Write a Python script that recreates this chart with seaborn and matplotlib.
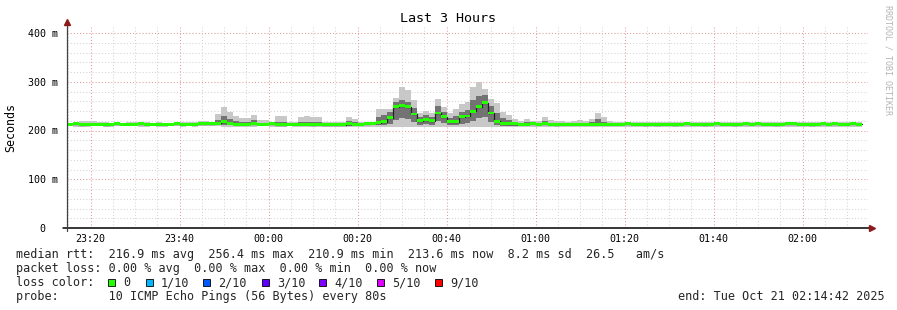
import numpy as np
import pandas as pd
import matplotlib
matplotlib.use("Agg")
import matplotlib.pyplot as plt
import seaborn as sns
from matplotlib.patches import Rectangle

# ---------------- data (80 s steps, minutes relative to 00:00) ----------------
start_min = -(45 + 18 / 60)      # 23:14:42
end_min = 134 + 42 / 60          # 02:14:42
step_min = 80 / 60

median_ms = [213, 214, 212, 213, 213, 213, 212, 213, 214, 213,
             213, 213, 214, 213, 213, 213, 213, 213, 214, 213,
             213, 213, 214, 214, 214, 215, 218, 215, 213, 213,
             213, 214, 213, 213, 214, 212, 212, 213, 213, 213,
             213, 212, 213, 212, 212, 212, 212, 214, 213, 213,
             214, 215, 216, 218, 226, 249, 251, 249, 234, 220,
             222, 220, 236, 228, 218, 218, 228, 230, 239, 249,
             257, 236, 219, 215, 214, 214, 213, 213, 214, 213,
             214, 213, 212, 213, 213, 213, 213, 213, 213, 213,
             213, 213, 213, 213, 214, 213, 213, 212, 213, 212,
             213, 213, 212, 213, 214, 213, 213, 212, 213, 214,
             213, 213, 212, 213, 214, 213, 214, 213, 213, 212,
             213, 214, 214, 213, 213, 212, 213, 214, 213, 214,
             213, 213, 214, 213]

max_ms = [216, 217, 220, 220, 220, 217, 217, 216, 217, 216,
          218, 218, 217, 217, 216, 217, 216, 216, 218, 217,
          217, 218, 220, 220, 217, 234, 248, 238, 230, 225,
          226, 232, 221, 221, 218, 230, 230, 217, 218, 227,
          230, 228, 227, 218, 217, 217, 218, 228, 224, 217,
          218, 217, 244, 244, 244, 266, 290, 283, 263, 236,
          240, 236, 265, 248, 236, 244, 254, 258, 290, 300,
          285, 265, 256, 238, 231, 224, 220, 224, 220, 219,
          227, 222, 219, 220, 218, 219, 221, 220, 224, 236,
          227, 219, 218, 218, 217, 218, 217, 217, 218, 217,
          218, 217, 217, 218, 218, 217, 218, 217, 218, 218,
          217, 218, 217, 218, 218, 217, 218, 218, 217, 217,
          218, 218, 218, 217, 218, 217, 218, 218, 217, 218,
          218, 217, 218, 218]

upper_q_ms = [215, 216, 215, 216, 215, 215, 215, 215, 216, 215,
              215, 216, 216, 215, 215, 215, 215, 215, 216, 215,
              215, 215, 217, 216, 216, 222, 230, 224, 220, 218,
              217, 222, 216, 216, 216, 218, 218, 215, 215, 217,
              218, 217, 217, 215, 215, 215, 215, 220, 217, 215,
              216, 217, 228, 232, 238, 258, 262, 258, 246, 228,
              232, 228, 250, 238, 226, 230, 238, 242, 262, 270,
              272, 250, 236, 226, 222, 218, 216, 217, 216, 216,
              219, 216, 215, 215, 215, 215, 216, 216, 217, 224,
              218, 215, 215, 215, 216, 215, 215, 214, 215, 214,
              215, 215, 214, 215, 216, 215, 215, 214, 215, 216,
              215, 215, 214, 215, 216, 215, 216, 215, 215, 214,
              215, 216, 216, 215, 215, 214, 215, 216, 215, 216,
              215, 215, 216, 215]

lower_q_ms = [211, 211, 209, 210, 211, 211, 210, 210, 211, 211,
              211, 211, 211, 210, 211, 211, 211, 211, 211, 210,
              211, 211, 211, 211, 211, 211, 212, 211, 210, 210,
              210, 211, 211, 211, 211, 210, 210, 211, 210, 210,
              210, 210, 210, 210, 210, 210, 210, 210, 210, 210,
              211, 211, 211, 212, 214, 222, 226, 224, 218, 212,
              213, 212, 220, 215, 211, 211, 214, 216, 220, 225,
              228, 218, 211, 210, 210, 210, 211, 211, 211, 211,
              211, 211, 210, 211, 211, 211, 211, 211, 211, 211,
              211, 211, 211, 210, 211, 211, 211, 210, 211, 210,
              210, 211, 209, 210, 211, 210, 211, 210, 210, 211,
              210, 211, 209, 210, 211, 210, 211, 211, 210, 210,
              211, 211, 211, 210, 211, 210, 210, 211, 210, 211,
              210, 211, 211, 210]

min_ms = [209, 208, 207, 208, 209, 209, 208, 208, 209, 209,
          209, 209, 208, 208, 209, 208, 208, 209, 209, 208,
          209, 208, 209, 209, 209, 209, 208, 208, 208, 208,
          208, 208, 209, 209, 208, 208, 208, 209, 208, 208,
          208, 208, 208, 208, 208, 208, 208, 208, 208, 208,
          208, 208, 208, 208, 208, 207, 208, 208, 208, 207,
          207, 207, 208, 207, 207, 207, 208, 208, 208, 208,
          208, 208, 207, 208, 208, 208, 208, 208, 208, 208,
          208, 208, 207, 208, 208, 208, 208, 208, 208, 208,
          208, 208, 208, 208, 208, 208, 208, 207, 208, 207,
          207, 208, 207, 207, 208, 207, 208, 207, 207, 208,
          207, 207, 207, 207, 208, 207, 207, 208, 207, 207,
          208, 208, 207, 207, 208, 207, 207, 208, 207, 208,
          207, 208, 208, 207]

x_tick_minutes = [-40, -20, 0, 20, 40, 60, 80, 100, 120]
x_tick_labels = ["23:20", "23:40", "00:00", "00:20", "00:40",
                 "01:00", "01:20", "01:40", "02:00"]
y_ticks = [0, 100, 200, 300, 400]
y_tick_labels = ["0  ", "100 m", "200 m", "300 m", "400 m"]

loss_labels = ["0", "1/10", "2/10", "3/10", "4/10", "5/10", "9/10"]
loss_colors = ["#26ff00", "#00b8ff", "#0059ff", "#5e00ff", "#7e00ff", "#dd00ff", "#ff0000"]

legend_rtt = "median rtt:  216.9 ms avg  256.4 ms max  210.9 ms min  213.6 ms now  8.2 ms sd  26.5   am/s"
legend_loss = "packet loss: 0.00 % avg  0.00 % max  0.00 % min  0.00 % now"
legend_probe = "probe:       10 ICMP Echo Pings (56 Bytes) every 80s"
end_text = "end: Tue Oct 21 02:14:42 2025"

# ---------------- figure ----------------
sns.set_theme(style="white")
MONO = ["DejaVu Sans Mono", "DejaVu Sans"]
plt.rcParams["font.family"] = MONO

W, H = 897, 310
fig = plt.figure(figsize=(W / 100, H / 100), dpi=100)
fig.patch.set_facecolor("white")
L, R, T, B = 67, 868, 26, 228
ax = fig.add_axes([L / W, 1 - B / H, (R - L) / W, (B - T) / H])
ax.set_facecolor("white")

n = len(median_ms)
edges = start_min + np.arange(n + 1) * step_min
def ext(a):
    a = np.asarray(a, dtype=float)
    return np.append(a, a[-1])

df = pd.DataFrame({"t": edges, "median": ext(median_ms)})

# grid
for v in np.arange(20, 420, 20):
    major = v % 100 == 0
    ax.axhline(v, color="#e39a9a" if major else "#d4d4d4", lw=0.75,
               ls=(0, (1, 2)), zorder=0)
for m in np.arange(-45, 135, 5):
    major = m % 20 == 0
    ax.axvline(m, color="#e39a9a" if major else "#d4d4d4", lw=0.75,
               ls=(0, (1, 2)), zorder=0)

# smoke
ax.fill_between(edges, ext(min_ms), ext(max_ms), step="post",
                color="#c8c8c8", lw=0, zorder=2)
ax.fill_between(edges, ext(lower_q_ms), ext(upper_q_ms), step="post",
                color="#737373", lw=0, zorder=3)

# median line (black step) + green loss band
sns.lineplot(data=df, x="t", y="median", drawstyle="steps-post",
             color="#202020", lw=0.9, estimator=None, ax=ax, zorder=4)
med_e = ext(median_ms)
ax.fill_between(edges, med_e - 2.8, med_e + 2.8, step="post",
                color=loss_colors[0], lw=0, zorder=5)

ax.set_xlim(start_min, end_min)
ax.set_ylim(0, 400 * (B - T) / 195)
ax.set_xlabel("")
ax.set_ylabel("")

for s in ax.spines.values():
    s.set_visible(False)

ax.set_xticks(x_tick_minutes)
ax.set_xticklabels(x_tick_labels)
ax.set_yticks(y_ticks)
ax.set_yticklabels(y_tick_labels)
ax.set_xticks(np.arange(-45, 135, 5), minor=True)
ax.tick_params(axis="x", which="major", length=2.5, width=0.7, color="#303030",
               labelsize=7.2, pad=1.5, labelcolor="#000000")
ax.tick_params(axis="x", which="minor", length=1.5, width=0.7, color="#303030")
ax.tick_params(axis="y", which="major", length=1.5, width=0.7, color="#303030",
               labelsize=7.2, pad=5, labelcolor="#000000")
for lab in ax.get_xticklabels() + ax.get_yticklabels():
    lab.set_fontfamily(MONO)

# axes lines with arrows
ax.plot([-4 / (R - L), 1 + 3 / (R - L)], [0, 0], transform=ax.transAxes,
        color="#000000", lw=1.1, clip_on=False, zorder=6)
ax.plot([0, 0], [-3 / (B - T), 1 + 3 / (B - T)], transform=ax.transAxes,
        color="#404040", lw=0.9, clip_on=False, zorder=6)
ax.plot([0], [1 + 4 / (B - T)], transform=ax.transAxes, marker="^", ms=4,
        color="#8b1a1a", clip_on=False, zorder=7)
ax.plot([1 + 4 / (R - L)], [0], transform=ax.transAxes, marker=">", ms=4,
        color="#8b1a1a", clip_on=False, zorder=7)

def px(x, y):
    return x / W, 1 - y / H

fig.text(*px(448, 19), "Last 3 Hours", ha="center", va="center",
         fontsize=9.6, family=MONO, color="#000000")
fig.text(*px(11, 127), "Seconds", ha="center", va="center", rotation=90,
         fontsize=8.4, family=MONO, color="#000000")
fig.text(*px(888, 60), "RRDTOOL / TOBI OETIKER", ha="center", va="center",
         rotation=270, fontsize=6, family=MONO, color="#b4b4b4")

LEG_FS = 8.48
fig.text(*px(16, 254.5), legend_rtt, ha="left", va="center", fontsize=LEG_FS, family=MONO)
fig.text(*px(16, 268.5), legend_loss, ha="left", va="center", fontsize=LEG_FS, family=MONO)
fig.text(*px(16, 282.5), "loss color:", ha="left", va="center", fontsize=LEG_FS, family=MONO)
fig.text(*px(16, 296.5), legend_probe, ha="left", va="center", fontsize=LEG_FS, family=MONO)
fig.text(*px(678, 296.5), end_text, ha="left", va="center", fontsize=LEG_FS, family=MONO)

box_x = [108, 146, 203, 262, 319, 377, 435]
for bx, lab, col in zip(box_x, loss_labels, loss_colors):
    fig.patches.append(Rectangle((bx / W, 1 - 286 / H), 7 / W, 7 / H,
                                 transform=fig.transFigure, facecolor=col,
                                 edgecolor="#000000", lw=0.6, figure=fig))
    fig.text(*px(bx + 15, 282.5), lab, ha="left", va="center",
             fontsize=LEG_FS, family=MONO)

fig.savefig("out.png", dpi=100, facecolor="white")
